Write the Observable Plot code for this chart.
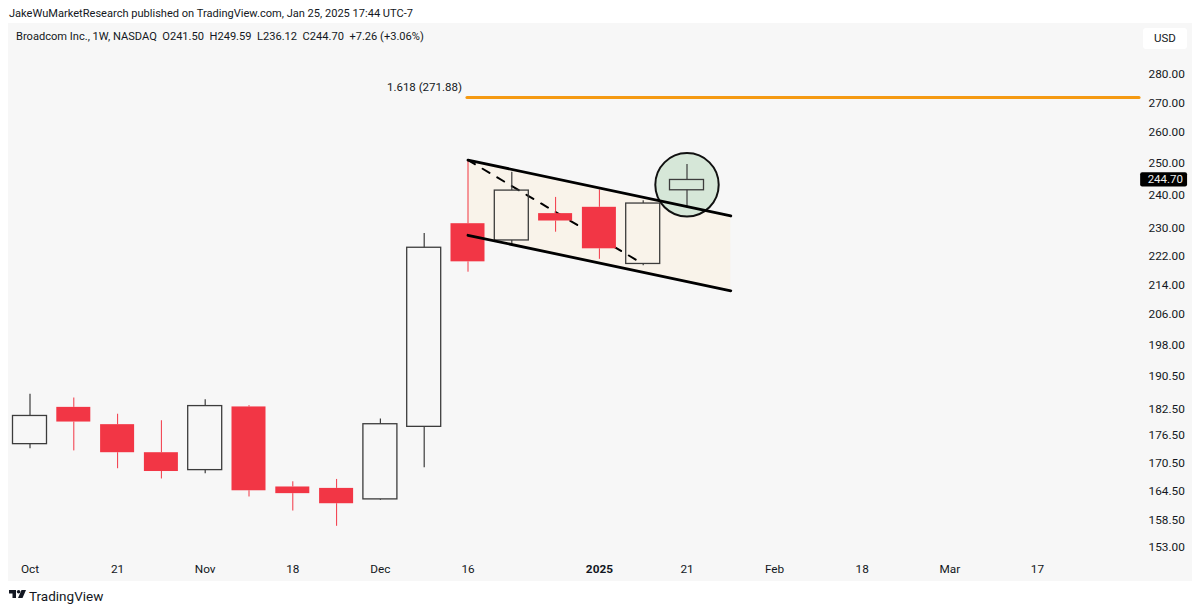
<!DOCTYPE html>
<html><head><meta charset="utf-8">
<script src="https://cdn.jsdelivr.net/npm/d3@7"></script>
<script src="https://cdn.jsdelivr.net/npm/@observablehq/plot@0.6"></script>
<style>
html,body{margin:0;padding:0;background:#fff;width:1200px;height:611px;overflow:hidden;font-family:Roboto,"Noto Sans",sans-serif;color:#131722}
.t{position:absolute;white-space:pre}
#chart{position:absolute;left:8px;top:23px}
</style></head><body>
<div class="t" id="pub" style="left:9px;top:6px;font-size:11.07px;line-height:16px">JakeWuMarketResearch published on TradingView.com, Jan 25, 2025 17:44 UTC-7</div>
<div id="chart"></div>
<div class="t" id="legend" style="left:16px;top:29px;font-size:11.1px;line-height:16px">Broadcom Inc., 1W, NASDAQ  O241.50  H249.59  L236.12  C244.70  +7.26 (+3.06%)</div>
<div class="t" id="usd" style="left:1143px;top:28px;width:44px;height:21px;background:#fff;border-radius:3px;text-align:center;font-size:11.5px;line-height:21px">USD</div>
<svg style="position:absolute;left:9px;top:590px" width="17" height="9" viewBox="0 0 17 9"><path fill="#131722" d="M0 0H7V8H3.5V3.5H0Z"/><circle cx="9.6" cy="1.8" r="1.8" fill="#131722"/><path fill="#131722" d="M12.5 0H17L13.5 8H9Z"/></svg>
<div class="t" id="foot" style="left:29px;top:588px;font-size:13.5px;line-height:16px">TradingView</div>
<script>
const weeks = ["2024-10-07","2024-10-14","2024-10-21","2024-10-28","2024-11-04","2024-11-11","2024-11-18","2024-11-25","2024-12-02","2024-12-09","2024-12-16","2024-12-23","2024-12-30","2025-01-06","2025-01-13","2025-01-20"];
const opens  = [174.6,183.0,179.0,172.7,168.9,183.1,165.3,165.0,162.7,178.5,231.4,226.5,234.4,236.3,219.8,241.5];
const highs  = [186.1,185.2,181.4,179.9,184.8,183.4,166.4,166.9,180.3,228.5,251.0,247.1,239.3,241.6,238.3,249.59];
const lows   = [173.6,173.1,169.2,167.0,168.1,163.2,160.3,157.2,162.5,169.4,217.5,225.0,228.9,221.1,219.3,236.12];
const closes = [181.0,179.6,172.7,168.6,183.3,164.5,163.9,161.8,179.1,224.4,220.4,241.4,232.2,224.1,237.44,244.70];

const yTicks = [280,270,260,250,240,230,222,214,206,198,190.5,182.5,176.5,170.5,164.5,158.5,153];
const xTickDates = ["2024-10-07","2024-10-21","2024-11-04","2024-11-18","2024-12-02","2024-12-16","2025-01-20","2025-02-03","2025-02-17","2025-03-03","2025-03-17"];
const xTickLabels = ["Oct","21","Nov","18","Dec","16","21","Feb","18","Mar","17"];
const yearTickDate = "2025-01-06";
const yearTickLabel = "2025";

const channelDates = ["2024-12-16","2025-01-27"];
const channelUpper = [251.0,233.7];
const channelLower = [228.0,212.4];
const dashDates = ["2024-12-16","2025-01-12T12:00"];
const dashValues = [251.0,220.3];
const fibDates = ["2024-12-15T20:00","2025-04-02T06:00"];
const fibValue = 271.88;
const fibLabel = "1.618 (271.88)";
const circleDate = "2025-01-20";
const circleValue = 243.2;
const lastTagDates = ["2025-04-02T12:00","2025-04-10"];
const lastTagRange = [247.0,242.5];
const lastTagLabel = "244.70";

const D = s => new Date(s.length > 10 ? s + "Z" : s + "T00:00Z");
const candles = weeks.map((w,i) => ({date:D(w),o:opens[i],h:highs[i],l:lows[i],c:closes[i],up:closes[i]>=opens[i],top:Math.max(opens[i],closes[i]),bot:Math.min(opens[i],closes[i])}));
const ups = candles.filter(d=>d.up), downs = candles.filter(d=>!d.up);
const channel = channelDates.map((d,i)=>({date:D(d),upper:channelUpper[i],lower:channelLower[i]}));
const dash = dashDates.map((d,i)=>({date:D(d),v:dashValues[i]}));
const fib = fibDates.map(d=>({date:D(d),v:fibValue}));
const labelOf = new Map(xTickDates.map((d,i)=>[+D(d),xTickLabels[i]]));
const INK="#131722", RED="#f23645", UP="#3c3c3c";
const fontFamily='Roboto,"Noto Sans",sans-serif';

const wicks = (data,stroke,w) => [
  Plot.ruleX(data,{x:"date",y1:"top",y2:"h",stroke,strokeWidth:w}),
  Plot.ruleX(data,{x:"date",y1:"bot",y2:"l",stroke,strokeWidth:w})
];

const plot = Plot.plot({
  width:1184, height:558,
  marginTop:0, marginLeft:0, marginRight:44, marginBottom:22,
  style:{background:"#f7f7f7",fontFamily,overflow:"visible"},
  x:{type:"utc",domain:[D(weeks[0]),D(weeks[15])],range:[21.5,678.5]},
  y:{type:"log",domain:[280,153],range:[51,524]},
  marks:[
    Plot.areaY(channel,{x:"date",y1:"lower",y2:"upper",fill:"#f9f3ea"}),
    Plot.line(fib,{x:"date",y:"v",stroke:"#f59a12",strokeWidth:3}),
    Plot.text([fibLabel],{x:D(fibDates[0]),y:fibValue,dx:-5,dy:-10,textAnchor:"end",fontSize:11.5,fill:INK}),
    Plot.line(dash,{x:"date",y:"v",stroke:"#000",strokeWidth:2,strokeDasharray:"8,9"}),
    Plot.dot([0],{x:D(circleDate),y:circleValue,r:31.7,fill:"#d6e7d8",stroke:"#111",strokeWidth:2}),
    ...wicks(downs,RED,1),
    ...wicks(ups,UP,1.2),
    Plot.rect(downs,{x1:"date",x2:"date",y1:"top",y2:"bot",insetLeft:-17,insetRight:-17,fill:RED}),
    Plot.rect(ups,{x1:"date",x2:"date",y1:"top",y2:"bot",insetLeft:-17,insetRight:-17,fill:"none",stroke:UP,strokeWidth:1.3}),
    Plot.line(channel,{x:"date",y:"upper",stroke:"#000",strokeWidth:2.8}),
    Plot.line(channel,{x:"date",y:"lower",stroke:"#000",strokeWidth:2.8}),
    Plot.rect([0],{x1:D(lastTagDates[0]),x2:D(lastTagDates[1]),y1:lastTagRange[0],y2:lastTagRange[1],fill:"#000",rx:2}),
    Plot.text([lastTagLabel],{x:D(lastTagDates[0]),y:(lastTagRange[0]+lastTagRange[1])/2,dx:7,textAnchor:"start",fill:"#eee",fontSize:11.5}),
    Plot.axisY({anchor:"right",ticks:yTicks,tickFormat:d3.format(".2f"),tickSize:0,tickPadding:0,textAnchor:"start",label:null,fontSize:11.8,fill:INK}),
    Plot.axisX({anchor:"bottom",ticks:xTickDates.map(D),tickFormat:d=>labelOf.get(+d),tickSize:0,tickPadding:5,label:null,fontSize:11.8,fill:INK}),
    Plot.axisX({anchor:"bottom",ticks:[D(yearTickDate)],tickFormat:()=>yearTickLabel,tickSize:0,tickPadding:5,label:null,fontSize:11.8,fontWeight:"bold",fill:INK})
  ]
});
document.getElementById("chart").append(plot);
</script>
</body></html>
